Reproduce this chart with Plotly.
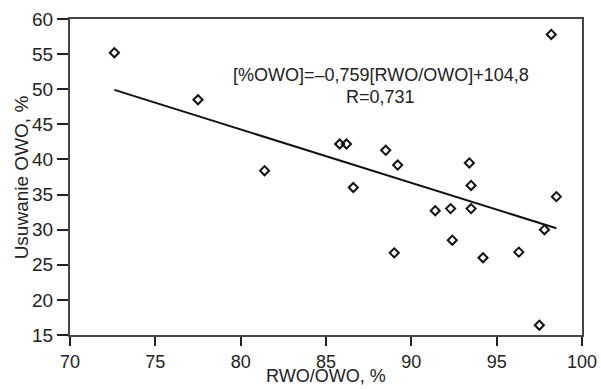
import plotly.graph_objects as go

rwo_owo = [72.6, 77.5, 81.4, 85.8, 86.2, 86.6, 88.5, 89.2, 89.0, 91.4, 92.3,
           92.4, 93.4, 93.5, 93.5, 94.2, 96.3, 97.5, 97.8, 98.2, 98.5]
usuwanie = [55.2, 48.5, 38.4, 42.2, 42.2, 36.0, 41.3, 39.2, 26.7, 32.7, 33.0,
            28.5, 39.5, 36.3, 33.0, 26.0, 26.8, 16.4, 30.0, 57.8, 34.7]
fit_x = [72.6, 98.5]
fit_y = [49.9, 30.2]
x_ticks = [70, 75, 80, 85, 90, 95, 100]
y_ticks = [15, 20, 25, 30, 35, 40, 45, 50, 55, 60]
equation = "[%OWO]=\u20130,759[RWO/OWO]+104,8"
r_text = "R=0,731"
x_title = "RWO/OWO, %"
y_title = "Usuwanie OWO, %"

font = "Arial, Liberation Sans, sans-serif"
axcol = "#444444"
txtcol = "#222222"

fig = go.Figure()
fig.add_trace(go.Scatter(x=fit_x, y=fit_y, mode="lines",
                         line=dict(color="#111111", width=2), showlegend=False))
fig.add_trace(go.Scatter(x=rwo_owo, y=usuwanie, mode="markers",
                         marker=dict(symbol="diamond-open", size=7, color="#111111",
                                     line=dict(width=2, color="#111111")),
                         showlegend=False))

fig.add_annotation(x=88.2, y=52.0, text=equation, showarrow=False,
                   font=dict(family=font, size=18, color=txtcol))
fig.add_annotation(x=88.2, y=48.9, text=r_text, showarrow=False,
                   font=dict(family=font, size=18, color=txtcol))

# axis titles
fig.add_annotation(xref="paper", yref="paper", x=0.5, y=-0.166, text=x_title,
                   showarrow=False, xanchor="center", yanchor="bottom", borderpad=0,
                   font=dict(family=font, size=18, color=txtcol))
fig.add_annotation(xref="paper", yref="paper", x=-0.095, y=0.5, text=y_title,
                   showarrow=False, xanchor="center", yanchor="middle", textangle=-90,
                   font=dict(family=font, size=19, color=txtcol))

fig.update_layout(
    width=601, height=389,
    margin=dict(l=70, r=19, t=19, b=54),
    plot_bgcolor="white", paper_bgcolor="white",
    font=dict(family=font, size=19, color=txtcol),
)
fig.update_xaxes(range=[70, 100], tickvals=x_ticks,
                 ticks="outside", ticklen=9, tickwidth=2, tickcolor="#222222",
                 showline=True, linecolor=axcol, linewidth=2, mirror=True,
                 showgrid=False, zeroline=False, automargin=False,
                 tickfont=dict(family=font, size=18))
fig.update_yaxes(range=[15, 60], tickvals=y_ticks,
                 ticks="outside", ticklen=11, tickwidth=2, tickcolor="#222222",
                 showline=True, linecolor=axcol, linewidth=2, mirror=True,
                 showgrid=False, zeroline=False, automargin=False,
                 tickfont=dict(family=font, size=19))

fig.write_html("out.html", config={"displayModeBar": False},
               post_script="document.body.style.margin='0';")
